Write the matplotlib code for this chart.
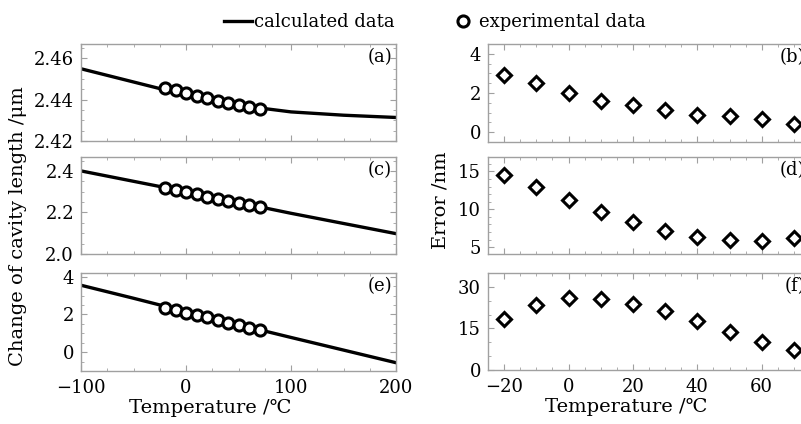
import matplotlib
matplotlib.use("Agg")
import matplotlib.pyplot as plt
from matplotlib.ticker import MultipleLocator

plt.rcParams["font.family"] = ["DejaVu Serif", "DejaVu Sans"]
plt.rcParams["mathtext.fontset"] = "dejavuserif"

# ---------------------------------------------------------------------
# Data
# ---------------------------------------------------------------------
t_calc = [-100, -50, 0, 50, 100, 150, 200]
t_exp = [-20, -10, 0, 10, 20, 30, 40, 50, 60, 70]

calc_a = [2.455, 2.4486, 2.4422, 2.4373, 2.4341, 2.4325, 2.4314]
exp_a = [2.4459, 2.4446, 2.4435, 2.4420, 2.4409, 2.4392, 2.4384, 2.4373, 2.4365, 2.4357]

calc_c = [2.400, 2.350, 2.300, 2.248, 2.196, 2.147, 2.098]
exp_c = [2.318, 2.307, 2.298, 2.287, 2.276, 2.266, 2.254, 2.245, 2.234, 2.226]

calc_e = [3.55, 2.86, 2.15, 1.46, 0.78, 0.11, -0.56]
exp_e = [2.36, 2.22, 2.09, 1.96, 1.84, 1.70, 1.57, 1.44, 1.30, 1.15]

err_b = [2.92, 2.52, 2.01, 1.60, 1.38, 1.12, 0.90, 0.81, 0.69, 0.43]
err_d = [14.47, 12.88, 11.16, 9.63, 8.35, 7.20, 6.40, 5.97, 5.87, 6.27]
err_f = [18.3, 23.4, 26.0, 25.5, 23.8, 21.3, 17.7, 13.6, 10.1, 7.1]

# ---------------------------------------------------------------------
# Layout (pixel boxes of the reference)
# ---------------------------------------------------------------------
W, H = 801, 424
fig = plt.figure(figsize=(W / 100, H / 100), dpi=100)


def box(x0, y0, x1, y1):
    return [x0 / W, 1 - y1 / H, (x1 - x0) / W, (y1 - y0) / H]


frame = "#a0a0a0"
fs = 13
fs_label = 14


def style(ax, xmajor, xminor, ymajor, yminor, show_x):
    for s in ax.spines.values():
        s.set_color(frame)
        s.set_linewidth(1.0)
    ax.xaxis.set_major_locator(MultipleLocator(xmajor))
    ax.xaxis.set_minor_locator(MultipleLocator(xminor))
    ax.yaxis.set_major_locator(MultipleLocator(ymajor))
    ax.yaxis.set_minor_locator(MultipleLocator(yminor))
    ax.tick_params(which="both", direction="in", top=True, right=True,
                   color=frame, labelsize=fs)
    ax.tick_params(axis="y", pad=5)
    ax.tick_params(axis="x", pad=6)
    ax.tick_params(which="major", length=4)
    ax.tick_params(which="minor", length=2)
    if not show_x:
        ax.tick_params(labelbottom=False)


ax_a = fig.add_axes(box(81, 44, 396, 141))
ax_c = fig.add_axes(box(81, 157, 396, 254))
ax_e = fig.add_axes(box(81, 273, 396, 371))
ax_b = fig.add_axes(box(488, 44, 810, 142))
ax_d = fig.add_axes(box(488, 157, 810, 254))
ax_f = fig.add_axes(box(488, 273, 810, 370))

line_kw = dict(color="black", linewidth=2.4)
circ_kw = dict(linestyle="none", marker="o", markersize=8, markerfacecolor="white",
               markeredgecolor="black", markeredgewidth=2.2)
diam_kw = dict(linestyle="none", marker="D", markersize=7, markerfacecolor="white",
               markeredgecolor="black", markeredgewidth=2.2)

for ax, calc, exp, ylim, ymaj, ymin, lab in [
    (ax_a, calc_a, exp_a, (2.42, 2.467), 0.02, 0.005, "(a)"),
    (ax_c, calc_c, exp_c, (2.0, 2.467), 0.2, 0.05, "(c)"),
    (ax_e, calc_e, exp_e, (-1.0, 4.2), 2, 0.5, "(e)"),
]:
    h_line, = ax.plot(t_calc, calc, **line_kw)
    h_circ, = ax.plot(t_exp, exp, **circ_kw)
    ax.set_xlim(-100, 200)
    ax.set_ylim(*ylim)
    style(ax, 100, 25, ymaj, ymin, ax is ax_e)
    ax.text(0.988, 0.96, lab, transform=ax.transAxes, ha="right", va="top", fontsize=fs)

ax_a.yaxis.set_major_formatter(plt.FormatStrFormatter("%.2f"))
ax_c.yaxis.set_major_formatter(plt.FormatStrFormatter("%.1f"))

for ax, err, ylim, ymaj, ymin, lab in [
    (ax_b, err_b, (-0.5, 4.5), 2, 0.5, "(b)"),
    (ax_d, err_d, (4.1, 16.9), 5, 1, "(d)"),
    (ax_f, err_f, (0, 35), 15, 5, "(f)"),
]:
    ax.plot(t_exp, err, **diam_kw)
    ax.set_xlim(-25, 75)
    ax.set_ylim(*ylim)
    style(ax, 20, 5, ymaj, ymin, ax is ax_f)
    ax.text(0.985, 0.96, lab, transform=ax.transAxes, ha="right", va="top", fontsize=fs)

ax_e.set_xlabel("Temperature /℃", fontsize=fs_label)
ax_e.xaxis.set_label_coords((210 - 81) / 315, -(399 - 371) / 98)
ax_f.set_xlabel("Temperature /℃", fontsize=fs_label)
ax_f.xaxis.set_label_coords((626 - 488) / 322, -(398 - 370) / 97)
ax_c.set_ylabel("Change of cavity length /μm", fontsize=fs_label)
ax_c.yaxis.set_label_coords((27 - 81) / 315, 0.29)
ax_d.set_ylabel("Error /nm", fontsize=fs_label)
ax_d.yaxis.set_label_coords((449 - 488) / 322, 0.557)

fig.legend([h_line, h_circ], ["calculated data", "experimental data"],
           loc="center", bbox_to_anchor=(435 / W, 1 - 22 / H), ncol=2,
           frameon=False, fontsize=fs, handlelength=1.5, handletextpad=0.15,
           columnspacing=3.0)

fig.savefig("out.png", dpi=100)
